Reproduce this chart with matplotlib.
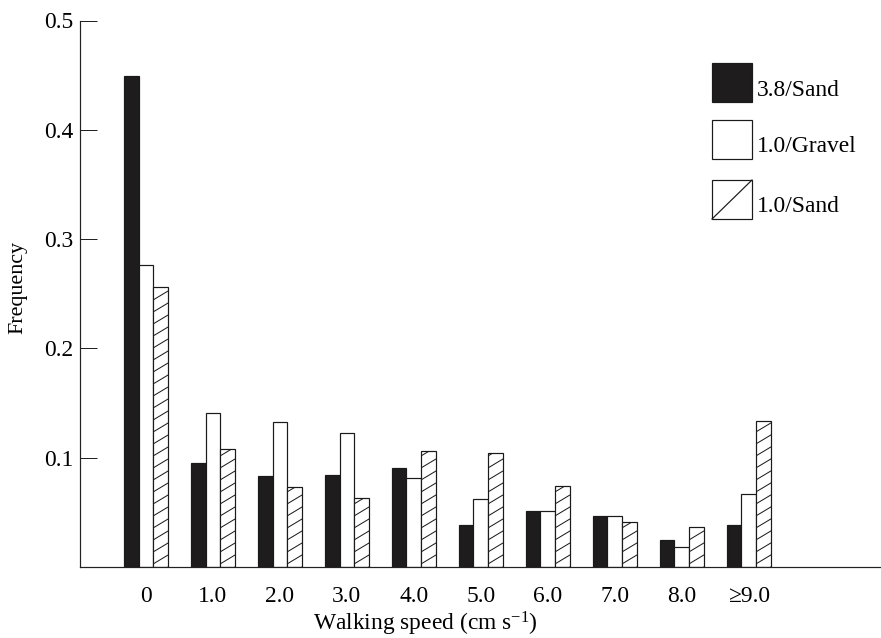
import matplotlib
matplotlib.use("Agg")
import numpy as np
import matplotlib.pyplot as plt
from matplotlib.patches import Rectangle
from matplotlib.lines import Line2D
from matplotlib.transforms import IdentityTransform

# data
categories = ["0", "1.0", "2.0", "3.0", "4.0", "5.0", "6.0", "7.0", "8.0", "\u22659.0"]
sand_38 = [0.449, 0.095, 0.083, 0.084, 0.091, 0.038, 0.051, 0.047, 0.025, 0.038]
gravel_10 = [0.276, 0.141, 0.133, 0.123, 0.081, 0.062, 0.051, 0.047, 0.018, 0.067]
sand_10 = [0.256, 0.108, 0.073, 0.063, 0.106, 0.104, 0.074, 0.041, 0.037, 0.134]
series_names = ["3.8/Sand", "1.0/Gravel", "1.0/Sand"]
yticks = [0.1, 0.2, 0.3, 0.4, 0.5]

plt.rcParams["font.family"] = ["Liberation Serif", "DejaVu Serif"]
plt.rcParams["mathtext.fontset"] = "custom"
plt.rcParams["mathtext.rm"] = "Liberation Serif"
plt.rcParams["mathtext.default"] = "rm"

W, H = 881, 638
DPI = 72
FS = 23.5
fig = plt.figure(figsize=(W / DPI, H / DPI), dpi=DPI)

# axes placed in pixel terms: left spine x=80, baseline y=567, top (0.5) y=20.5
ax = fig.add_axes([80 / W, 1 - 567 / H, (880 - 80) / W, (567 - 20.5) / H])

x = np.arange(len(categories))
bw = 0.22
edge = "#1a1a1a"
ax.bar(x - bw, sand_38, bw, color="#1e1c1d", edgecolor=edge, linewidth=1.2)
ax.bar(x, gravel_10, bw, color="white", edgecolor=edge, linewidth=1.2)
hatched = ax.bar(x + bw, sand_10, bw, color="white", edgecolor=edge, linewidth=1.2)

ax.set_xlim(-0.985, 10.96)
ax.set_ylim(0, 0.5)

# hatch drawn by hand so the spacing and slope match the print
step, slope = 12.0, 0.6
for rect in hatched.patches:
    (x0, y0), (x1, y1) = ax.transData.transform(
        [(rect.get_x(), 0), (rect.get_x() + rect.get_width(), rect.get_height())])
    run = x1 - x0
    c = y0 - slope * run
    while c < y1:
        ln = Line2D([x0, x1], [c, c + slope * run], transform=IdentityTransform(),
                    color=edge, linewidth=1.0)
        ln.set_clip_path(rect)
        fig.add_artist(ln)
        c += step

for s in ["top", "right"]:
    ax.spines[s].set_visible(False)
ax.spines["left"].set_color("#222222")
ax.spines["bottom"].set_color("#222222")
ax.spines["left"].set_linewidth(1.2)
ax.spines["bottom"].set_linewidth(1.2)

ax.set_yticks(yticks)
ax.set_yticklabels(["%.1f" % v for v in yticks])
ax.tick_params(axis="y", direction="in", length=17, width=1.0, pad=7,
               labelsize=FS, color="#222222")
ax.set_xticks(x)
ax.set_xticklabels(categories)
ax.tick_params(axis="x", length=0, pad=19, labelsize=FS)

fig.text(425 / W, 1 - 624 / H, "Walking speed (cm s$^{-1}$)", ha="center",
         va="center", fontsize=FS)
fig.text(18 / W, 1 - 288 / H, "Frequency", rotation=90, ha="center",
         va="center", fontsize=22)

# hand drawn legend boxes
def px(xp, yp):
    return xp / W, 1 - yp / H

box_w, box_h = 40 / W, 39 / H
tops = [63, 120, 180]
fills = ["#1e1c1d", "white", "white"]
for top, fill, name in zip(tops, fills, series_names):
    x0, y0 = px(712, top + 39)
    fig.add_artist(Rectangle((x0, y0), box_w, box_h, transform=fig.transFigure,
                             facecolor=fill, edgecolor=edge, linewidth=1.2))
    fig.text(757 / W, 1 - (top + 27) / H, name, ha="left", va="center", fontsize=FS)
x0, y0 = px(712, 180 + 39)
fig.add_artist(Line2D([x0, x0 + box_w], [y0, y0 + box_h], transform=fig.transFigure,
                      color=edge, linewidth=1.2))

fig.savefig("out.png", dpi=DPI)
